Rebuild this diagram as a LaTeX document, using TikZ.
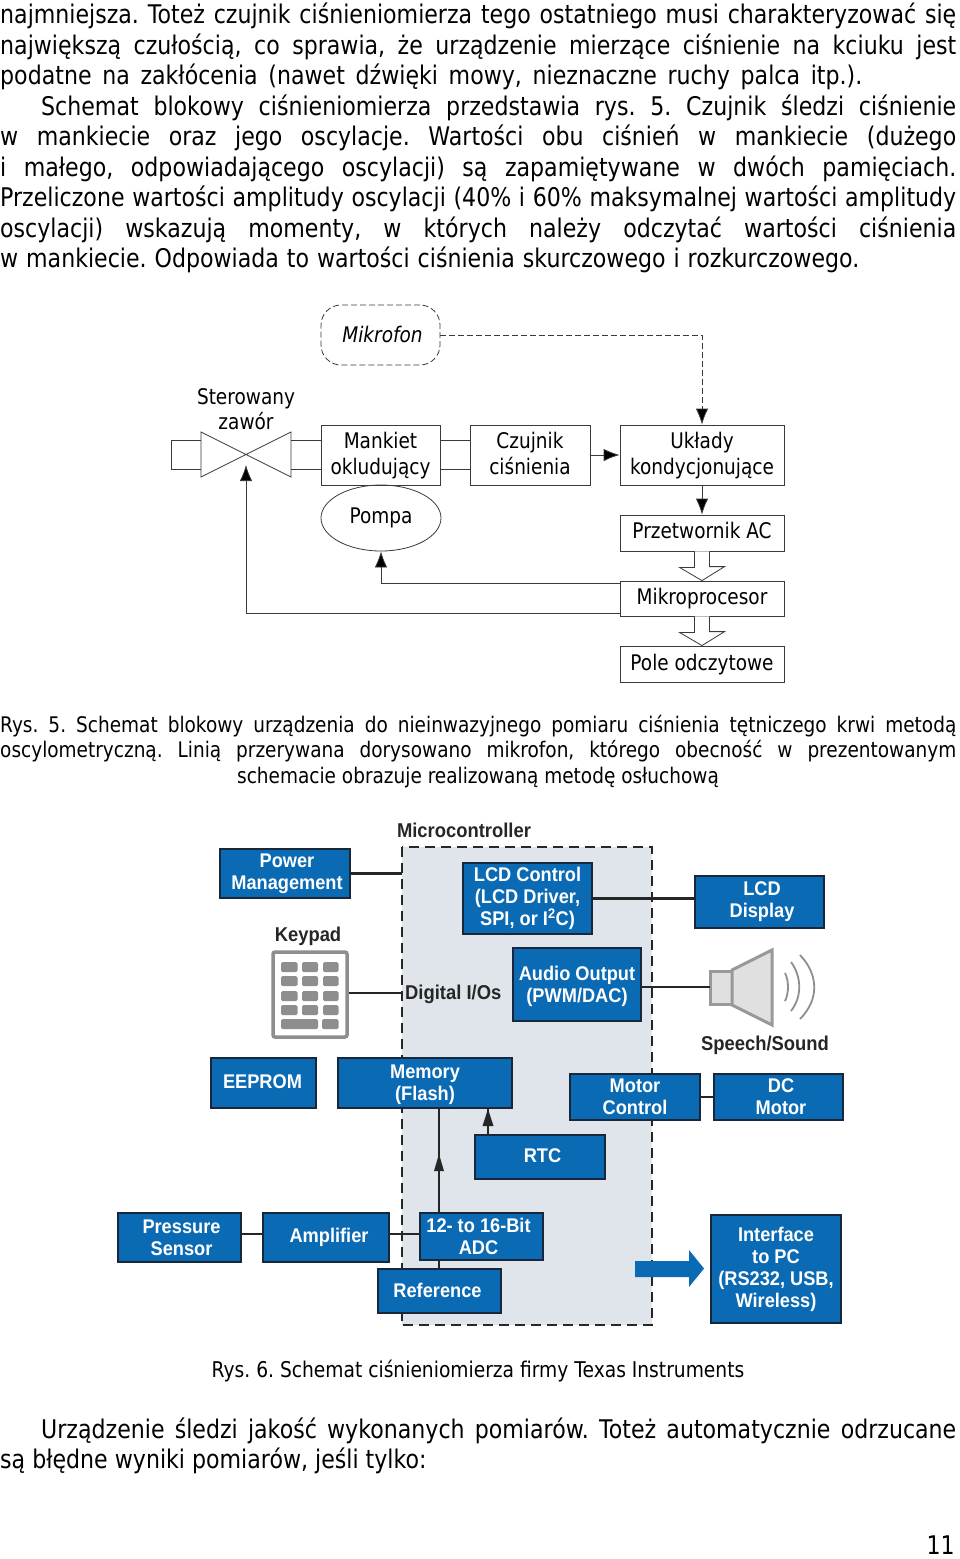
\documentclass[tikz,border=0pt]{standalone}
\usepackage{fontspec}
\setmainfont[FakeStretch=0.86,ItalicFont={DejaVu Sans Oblique}]{DejaVu Sans}
\newfontfamily\bluef[FakeStretch=0.92]{Liberation Sans Bold}
\usetikzlibrary{arrows.meta,shapes.geometric,calc}
\definecolor{tiblue}{HTML}{0A6AB4}
\definecolor{tidark}{HTML}{18283A}
\definecolor{shadec}{HTML}{DFE5EA}
\definecolor{linec}{HTML}{3A3A3A}
\definecolor{keyg}{HTML}{8E8E8E}
\tikzset{
  txtline/.style={anchor=base west,inner sep=0pt,font=\frenchspacing\fontsize{25.7}{30}\selectfont,text=black},
  capline/.style={anchor=base west,inner sep=0pt,font=\frenchspacing\fontsize{21.5}{26}\selectfont,text=black},
  capcenter/.style={anchor=base,inner sep=0pt,font=\frenchspacing\fontsize{21.5}{26}\selectfont,text=black},
  wbox/.style={draw=linec,line width=0.8pt,align=center,inner sep=0pt,font=\fontsize{21.5}{26}\selectfont,text=black},
  bbox/.style={draw=tidark,fill=tiblue,line width=1.8pt,align=center,inner sep=0pt,text=white,font=\bluef\fontsize{19.8}{22}\selectfont},
  dlabel/.style={inner sep=0pt,text=black!85,font=\bluef\fontsize{20}{22}\selectfont},
  thin line/.style={draw=linec,line width=0.8pt},
  thick line/.style={draw=black!85,line width=2.2pt},
  tip/.style={-{Latex[length=16pt,width=12.5pt,fill=black]}},
  hollow/.style={draw=linec,line width=0.8pt,fill=white},
  gspeaker/.style={draw=keyg!90,line width=3pt,fill=black!12,line join=miter},
  gwave/.style={draw=keyg,line width=1.8pt},
  key/.style={fill=keyg,rounded corners=1.5pt,draw=none}
}
\newcommand{\jline}[6]{\node[#1] (#2) at (#3,#4) {\hbox to #5pt{\spaceskip=0.26em plus 1fil\relax #6}};}
\newcommand{\bx}[7]{\pgfmathsetmacro\cxx{(#3+#5)/2}\pgfmathsetmacro\cyy{(#4+#6)/2}\pgfmathsetmacro\wdd{#5-#3}\pgfmathsetmacro\htt{#6-#4}%
  \node[#1,minimum width=\wdd pt,minimum height=\htt pt] (#2) at (\cxx,\cyy) {#7};}
\newcommand{\dn}[2]{\raisebox{-#1pt}[\height][\depth]{#2}}
\begin{document}
\begin{tikzpicture}[x=1pt,y=-1pt]
\useasboundingbox (0,0) rectangle (960,1559);
% body text
\jline{txtline}{t1}{0}{23}{956}{najmniejsza. Toteż czujnik ciśnieniomierza tego ostatniego musi charakteryzować się}
\jline{txtline}{t2}{0}{54}{956}{największą czułością, co sprawia, że urządzenie mierzące ciśnienie na kciuku jest}
\jline{txtline}{t3}{0}{84}{862}{podatne na zakłócenia (nawet dźwięki mowy, nieznaczne ruchy palca itp.).}
\jline{txtline}{t4}{41}{115}{915}{Schemat blokowy ciśnieniomierza przedstawia rys. 5. Czujnik śledzi ciśnienie}
\jline{txtline}{t5}{0}{145}{956}{w mankiecie oraz jego oscylacje. Wartości obu ciśnień w mankiecie (dużego}
\jline{txtline}{t6}{0}{176}{956}{i małego, odpowiadającego oscylacji) są zapamiętywane w dwóch pamięciach.}
\jline{txtline}{t7}{0}{206}{956}{Przeliczone wartości amplitudy oscylacji (40\% i 60\% maksymalnej wartości amplitudy}
\jline{txtline}{t8}{0}{237}{956}{oscylacji) wskazują momenty, w których należy odczytać wartości ciśnienia}
\jline{txtline}{t9}{0}{267}{859}{w mankiecie. Odpowiada to wartości ciśnienia skurczowego i rozkurczowego.}
% block diagram 1
\bx{wbox,dashed,dash pattern=on 6pt off 3pt,rounded corners=20pt}{mik}{321}{305}{440}{365}{\hspace*{4pt}\raisebox{1pt}[\height][\depth]{\itshape Mikrofon}}
\bx{wbox}{mank}{321}{425}{440}{485}{\dn{1}{\strut Mankiet}\\\dn{1}{\strut okludujący}}
\bx{wbox}{czuj}{470}{425}{590}{485}{\dn{1}{\strut Czujnik}\\\dn{1}{\strut ciśnienia}}
\bx{wbox}{ukl}{620}{425}{784}{485}{\dn{1}{\strut Układy}\\\dn{1}{\strut kondycjonujące}}
\node[wbox,ellipse,minimum width=120pt,minimum height=66pt] (pomp) at (381,518) {\raisebox{3pt}{Pompa}};
\bx{wbox}{prze}{620}{515}{784}{551}{\strut Przetwornik AC}
\bx{wbox}{mikp}{620}{581}{784}{616}{\dn{1}{\strut Mikroprocesor}}
\bx{wbox}{pole}{620}{646}{784}{682}{\dn{1}{\strut Pole odczytowe}}
\node[inner sep=0pt,align=center,font=\fontsize{21.5}{25.5}\selectfont] (ster) at (246,409) {Sterowany\\zawór};
\coordinate (valve) at (246,455);
\draw[thin line] (201,432) -- (291,477) -- (291,432) -- (201,477) -- cycle;
\draw[thin line] (201,440.5) -- (171.5,440.5) -- (171.5,469.5) -- (201,469.5);
\draw[thin line] (291,440.5) -- (mank.west |- 0,440.5);
\draw[thin line] (291,469.5) -- (mank.west |- 0,469.5);
\draw[thin line] ([yshift=14.5pt]mank.east) -- ([yshift=14.5pt]czuj.west);
\draw[thin line] ([yshift=-14.5pt]mank.east) -- ([yshift=-14.5pt]czuj.west);
\draw[thin line,tip] (czuj.east) -- (ukl.west);
\draw[thin line,dashed,dash pattern=on 6pt off 3pt] (mik.east) -| ([yshift=15pt]ukl.north);
\draw[thin line,tip] ([yshift=15pt]ukl.north) -- (ukl.north);
\draw[thin line,tip] (ukl.south) -- (prze.north);
\draw[thin line,tip] (mikp.west |- 0,583) -| (pomp.south);
\draw[thin line,tip] (mikp.west |- 0,613) -| ([yshift=-10pt]valve);
\draw[hollow] ([xshift=-7.5pt]prze.south) -- ++(0,16) -- ++(-15,0) -- (mikp.north) -- ($(mikp.north)+(22.5,-14)$) -- ++(-15,0) -- ([xshift=7.5pt]prze.south);
\draw[hollow] ([xshift=-7.5pt]mikp.south) -- ++(0,16) -- ++(-15,0) -- (pole.north) -- ($(pole.north)+(22.5,-14)$) -- ++(-15,0) -- ([xshift=7.5pt]mikp.south);
% caption 5
\jline{capline}{c1}{0}{732}{956}{Rys. 5. Schemat blokowy urządzenia do nieinwazyjnego pomiaru ciśnienia tętniczego krwi metodą}
\jline{capline}{c2}{0}{757}{956}{oscylometryczną. Linią przerywana dorysowano mikrofon, którego obecność w prezentowanym}
\node[capcenter] (c3) at (478,783) {schemacie obrazuje realizowaną metodę osłuchową};
% block diagram 2
\bx{draw=none,fill=shadec,inner sep=0pt}{reg}{402}{847}{652}{1325}{}
\draw[black!85,line width=2pt,dash pattern=on 10pt off 6pt] (reg.north west) rectangle (reg.south east);
\node[dlabel] (mc) at (464,830) {Microcontroller};
\bx{bbox}{pow}{220}{849}{350}{898}{\hspace*{4pt}Power\\\hspace*{4pt}Management}
\bx{bbox}{lcdc}{463}{863}{592}{934}{LCD Control\\(LCD Driver,\\SPI, or I\textsuperscript{2}C)}
\bx{bbox}{lcd}{695}{876}{824}{928}{\hspace*{5pt}LCD\\\hspace*{5pt}Display}
\bx{bbox}{aud}{513}{948}{641}{1021}{\dn{2}{Audio Output}\\\dn{2}{(PWM/DAC)}}
\node[dlabel] (kpl) at (308,936) {Keypad};
\bx{draw=keyg,line width=3.5pt,fill=white,rounded corners=2pt,inner sep=0pt}{kpd}{273}{952}{347}{1037}{}
\foreach \yy in {962,976,991,1005}{
  \fill[key] (281,\yy) rectangle ++(16.5,10);
  \fill[key] (302,\yy) rectangle ++(16,10);
  \fill[key] (323,\yy) rectangle ++(15.5,10);
}
\fill[key] (281,1019) rectangle ++(37,10);
\fill[key] (322,1019) rectangle ++(16.5,10);
\node[dlabel,anchor=west] (dio) at (405,994) {Digital I/Os};
\coordinate (spk) at (710,987);
\draw[gspeaker] (710,971) rectangle (732,1004);
\draw[gspeaker] (732,970) -- (772,950) -- (772,1025) -- (732,1005) -- cycle;
\draw[gwave] (785,973) .. controls (789,981) and (789,993) .. (785,1001);
\draw[gwave] (791,962) .. controls (802,977) and (802,997) .. (791,1011);
\draw[gwave] (800,955) .. controls (819,975) and (819,1000) .. (800,1019);
\node[dlabel] (spl) at (765,1045) {Speech/Sound};
\bx{bbox}{eep}{211}{1058}{316}{1108}{\raisebox{2pt}{\hspace*{-2pt}EEPROM}}
\bx{bbox}{mem}{338}{1058}{512}{1108}{\dn{2}{Memory}\\\dn{2}{(Flash)}}
\bx{bbox}{mot}{570}{1074}{700}{1120}{Motor\\Control}
\bx{bbox}{dcm}{714}{1074}{843}{1120}{\hspace*{5pt}DC\\\hspace*{5pt}Motor}
\bx{bbox}{rtc}{475}{1135}{605}{1179}{\raisebox{2pt}{\hspace*{5pt}RTC}}
\bx{bbox}{prs}{118}{1213}{241}{1262}{\hspace*{4pt}Pressure\\\hspace*{4pt}Sensor}
\bx{bbox}{amp}{263}{1213}{389}{1262}{\hspace*{6pt}Amplifier}
\bx{bbox}{adc}{420}{1213}{543}{1260}{\hspace*{-6pt}12- to 16-Bit\\\hspace*{-6pt}ADC}
\bx{bbox}{ref}{378}{1269}{501}{1313}{\raisebox{2pt}{\hspace*{-4pt}Reference}}
\bx{bbox}{ifc}{711}{1215}{841}{1323}{Interface\\to PC\\(RS232, USB,\\Wireless)}
\draw[thick line] (pow.east) -- (pow.east -| reg.west);
\draw[thick line] (lcdc.east) -- (lcdc.east -| lcd.west);
\draw[thick line] (kpd.east |- 0,993) -- (reg.west |- 0,993);
\draw[thick line] (aud.east |- spk) -- (spk);
\draw[thick line] (mot.east) -- (mot.east -| dcm.west);
\draw[thick line] (prs.east |- 0,1234) -- (amp.west |- 0,1234);
\draw[thick line] (amp.east |- 0,1234) -- (adc.west |- 0,1234);
\draw[thick line] (439,1213) -- (439,1108);
\draw[thick line] (439,1269) -- (439,1260);
\fill[black!85] (439,1154) -- (434,1171) -- (444,1171) -- cycle;
\draw[thick line] (488,1135) -- (488,1108);
\fill[black!85] (488,1109) -- (482.5,1126) -- (493.5,1126) -- cycle;
\fill[tiblue] (635,1261) -- (689,1261) -- (689,1250) -- (704,1268.5) -- (689,1287) -- (689,1277) -- (635,1277) -- cycle;
% lower text
\node[capcenter,font=\frenchspacing\fontsize{21.7}{26}\selectfont] (c6) at (478,1377) {Rys. 6. Schemat ciśnieniomierza firmy Texas Instruments};
\jline{txtline}{b1}{41}{1438}{915}{Urządzenie śledzi jakość wykonanych pomiarów. Toteż automatycznie odrzucane}
\node[txtline] (b2) at (0,1468) {są błędne wyniki pomiarów, jeśli tylko:};
\node[txtline,anchor=base east] (pg) at (955,1554) {11};
\end{tikzpicture}
\end{document}
